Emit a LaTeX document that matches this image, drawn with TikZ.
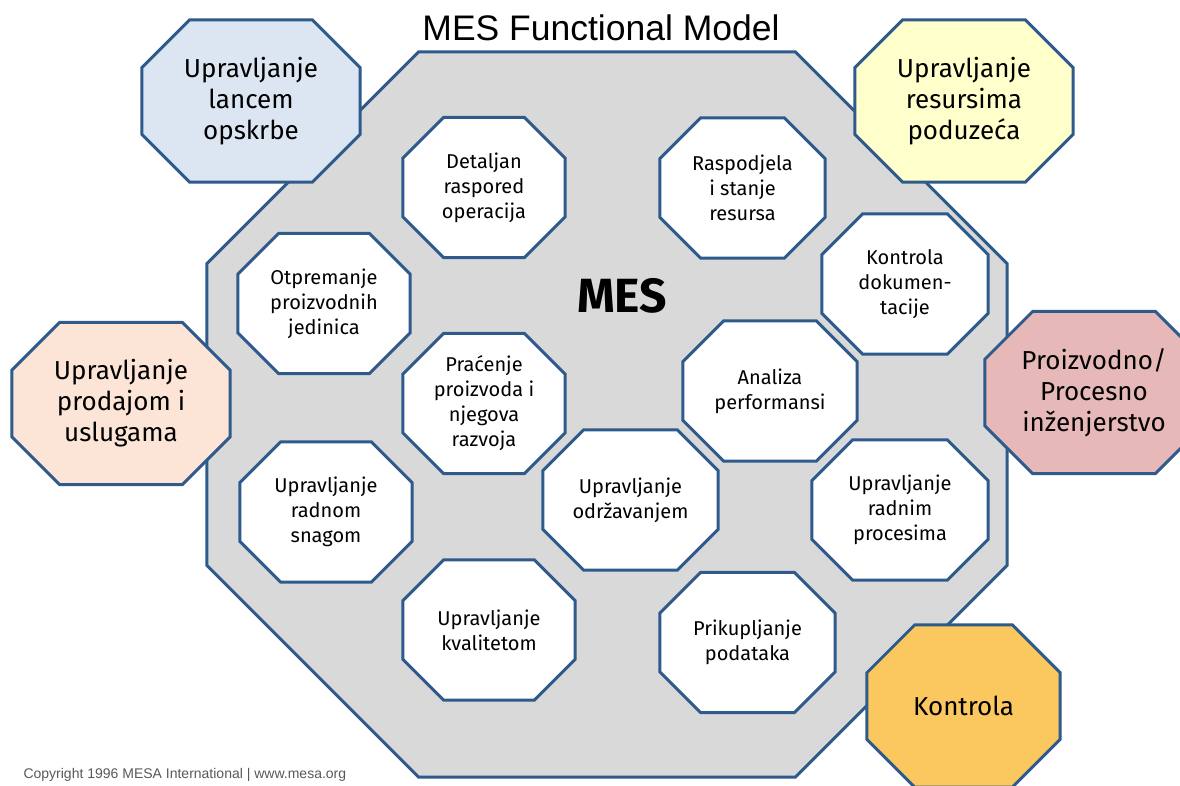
\documentclass[tikz,border=0pt]{standalone}
\usepackage{fontspec}
\setmainfont{Fira Sans}
\newfontfamily\arialfont{Liberation Sans}
\usetikzlibrary{backgrounds}
\definecolor{mesblue}{HTML}{2F5A8C}
\definecolor{mesgray}{HTML}{D9D9D9}
\definecolor{scmblue}{HTML}{DCE6F2}
\definecolor{erpyellow}{HTML}{FFFFCC}
\definecolor{salespeach}{HTML}{FCE4D6}
\definecolor{engrose}{HTML}{E6B9B8}
\definecolor{ctrlgold}{HTML}{FAC85E}
\tikzset{
  octa/.style={shape=rectangle,inner sep=0pt,align=center,text=black},
  outer/.style={octa,minimum width=#1,minimum height=162pt,
    font=\fontsize{26}{31}\selectfont},
  outer/.default=218pt,
  inner/.style={octa,minimum width=#1,minimum height=140pt,
    font=\fontsize{20}{25}\selectfont},
  inner/.default=172pt
}
% cut-corner box round a named node
\newcommand\mesocta[3]{%
  \filldraw[fill=#3,draw=mesblue,line width=3pt]
    ([xshift=#2]#1.north west) -- ([xshift=-#2]#1.north east)
    -- ([yshift=-#2]#1.north east) -- ([yshift=#2]#1.south east)
    -- ([xshift=-#2]#1.south east) -- ([xshift=#2]#1.south west)
    -- ([yshift=#2]#1.south west) -- ([yshift=-#2]#1.north west) -- cycle;}

\begin{document}
\begin{tikzpicture}[x=1pt,y=-1pt]
  \useasboundingbox (0,0) rectangle (1180,785);
  % MES core
  \node (mescore) [octa,minimum width=800pt,minimum height=725pt] at (607,414.5) {};
  \node (title) at (601,28) {\arialfont\fontsize{35.5}{36}\selectfont MES Functional Model};
  \node (mes) at (622,296) {\fontsize{48}{48}\selectfont\bfseries MES};
  % surrounding functions
  \node (scm) [outer] at (251,101) {Upravljanje\\lancem\\opskrbe};
  \node (erp) [outer] at (964,101) {Upravljanje\\resursima\\poduzeća};
  \node (sales) [outer] at (121,403.5) {Upravljanje\\prodajom i\\uslugama};
  \node (eng) [outer] at (1094,392.5) {Proizvodno/\\Procesno\\inženjerstvo};
  \node (ctrl) [outer=193pt] at (963.5,706) {Kontrola};
  % MES functions
  \node (sched) [inner=162pt] at (484,187.5) {Detaljan\\raspored\\operacija};
  \node (alloc) [inner=165pt] at (742.5,188) {Raspodjela\\i stanje\\resursa};
  \node (dispatch) [inner] at (324,303.5) {Otpremanje\\proizvodnih\\jedinica};
  \node (docs) [inner=166pt] at (905,284) {Kontrola\\dokumen-\\tacije};
  \node (track) [inner=162pt] at (484,403.5) {Praćenje\\proizvoda i\\njegova\\razvoja};
  \node (perf) [inner=174pt] at (770,391) {Analiza\\performansi};
  \node (maint) [inner=175pt] at (630.5,500) {Upravljanje\\održavanjem};
  \node (labor) [inner] at (326,512) {Upravljanje\\radnom\\snagom};
  \node (process) [inner=176pt] at (900,510) {Upravljanje\\radnim\\procesima};
  \node (quality) [inner] at (489,630) {Upravljanje\\kvalitetom};
  \node (data) [inner=175pt] at (747.5,642.5) {Prikupljanje\\podataka};
  \node (copy) [anchor=west,text=black!65] at (20,775)
    {\arialfont\fontsize{14}{14}\selectfont Copyright 1996 MESA International | www.mesa.org};
  \begin{pgfonlayer}{background}
    \fill[white] (0,0) rectangle (1180,785);
    \mesocta{mescore}{212pt}{mesgray}
    \foreach \n/\c in {scm/scmblue,erp/erpyellow,sales/salespeach,eng/engrose,ctrl/ctrlgold}
      {\mesocta{\n}{48pt}{\c}}
    \foreach \n in {sched,alloc,dispatch,docs,track,perf,maint,labor,process,quality,data}
      {\mesocta{\n}{41pt}{white}}
  \end{pgfonlayer}
\end{tikzpicture}
\end{document}
